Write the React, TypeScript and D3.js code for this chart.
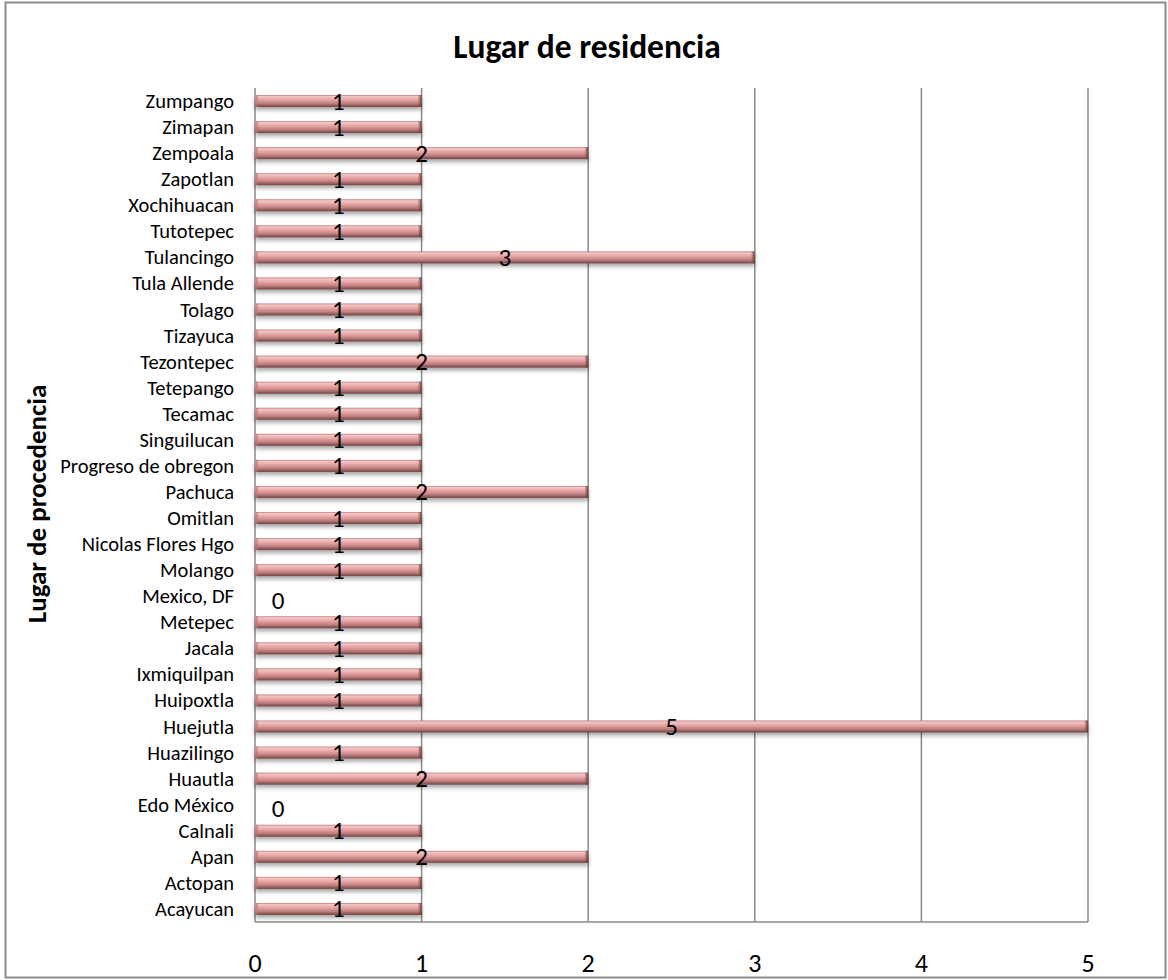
import React from "react";
import * as d3 from "d3";

const categories = [
  "Acayucan", "Actopan", "Apan", "Calnali", "Edo México", "Huautla", "Huazilingo",
  "Huejutla", "Huipoxtla", "Ixmiquilpan", "Jacala", "Metepec", "Mexico, DF", "Molango",
  "Nicolas Flores Hgo", "Omitlan", "Pachuca", "Progreso de obregon", "Singuilucan",
  "Tecamac", "Tetepango", "Tezontepec", "Tizayuca", "Tolago", "Tula Allende",
  "Tulancingo", "Tutotepec", "Xochihuacan", "Zapotlan", "Zempoala", "Zimapan", "Zumpango",
];
const values = [
  1, 1, 2, 1, 0, 2, 1,
  5, 1, 1, 1, 1, 0, 1,
  1, 1, 2, 1, 1,
  1, 1, 2, 1, 1, 1,
  3, 1, 1, 1, 2, 1, 1,
];
const xTicks = [0, 1, 2, 3, 4, 5];
const title = "Lugar de residencia";
const yTitle = "Lugar de procedencia";

const W = 1168;
const H = 980;
const plot = { left: 255, right: 1088, top: 88, bottom: 922 };
const FONT = "Carlito, Lato, 'Open Sans', sans-serif";

export default function App() {
  const x = d3.scaleLinear().domain([0, 5]).range([plot.left, plot.right]);
  const y = d3
    .scaleBand<string>()
    .domain([...categories].reverse())
    .range([plot.top, plot.bottom])
    .paddingInner(0)
    .paddingOuter(0);
  const barH = 12;
  const rows = categories.map((c, i) => ({ c, v: values[i] }));

  return (
    <svg
      width={W}
      height={H}
      style={{ position: "absolute", left: 0, top: 0, background: "#fff" }}
      fontFamily={FONT}
    >
      <defs>
        <linearGradient id="barFill" x1="0" y1="0" x2="0" y2="1">
          <stop offset="0%" stopColor="#b87a7a" />
          <stop offset="12%" stopColor="#f4c6c6" />
          <stop offset="40%" stopColor="#e6a3a3" />
          <stop offset="70%" stopColor="#c07f7f" />
          <stop offset="100%" stopColor="#6f4242" />
        </linearGradient>
        <linearGradient id="capFill" x1="0" y1="0" x2="1" y2="0">
          <stop offset="0%" stopColor="#8a5353" stopOpacity={0} />
          <stop offset="100%" stopColor="#5e3434" />
        </linearGradient>
        <filter id="shadow" x="-5%" y="-50%" width="110%" height="250%">
          <feGaussianBlur in="SourceAlpha" stdDeviation="2.2" />
          <feOffset dx="0" dy="3" result="b" />
          <feComponentTransfer>
            <feFuncA type="linear" slope="0.35" />
          </feComponentTransfer>
          <feMerge>
            <feMergeNode />
            <feMergeNode in="SourceGraphic" />
          </feMerge>
        </filter>
      </defs>

      <rect x={5.5} y={2.5} width={1160} height={975} fill="#fff" stroke="#8c8c8c" strokeWidth={2} />

      {/* vertical gridlines */}
      {xTicks.map((t) => (
        <line key={t} x1={x(t)} x2={x(t)} y1={plot.top} y2={plot.bottom} stroke="#8a8a8a" strokeWidth={1.5} />
      ))}
      <line x1={plot.left} x2={plot.right} y1={plot.bottom} y2={plot.bottom} stroke="#8a8a8a" strokeWidth={1.5} />

      {/* bars */}
      {rows.map(({ c, v }) => {
        if (v <= 0) return null;
        const cy = (y(c) as number) + y.bandwidth() / 2;
        const x0 = x(0);
        const w = x(v) - x0;
        return (
          <g key={c} filter="url(#shadow)">
            <rect x={x0} y={cy - barH / 2} width={w} height={barH} fill="url(#barFill)" />
            <rect x={x0 + w - 4} y={cy - barH / 2} width={4} height={barH} fill="url(#capFill)" />
            <rect x={x0} y={cy - barH / 2} width={3} height={barH} fill="#b57777" opacity={0.6} />
          </g>
        );
      })}

      {/* value labels */}
      {rows.map(({ c, v }) => {
        const cy = (y(c) as number) + y.bandwidth() / 2;
        const lx = v > 0 ? x(v / 2) : x(0) + 23;
        return (
          <text key={c} x={lx} y={cy + (v > 0 ? 0 : 4)} textAnchor="middle" dominantBaseline="central" fontSize={25} fill="#000">
            {v}
          </text>
        );
      })}

      {/* category labels */}
      {categories.map((c) => (
        <text
          key={c}
          x={234}
          y={(y(c) as number) + y.bandwidth() / 2}
          textAnchor="end"
          dominantBaseline="central"
          fontSize={20.5}
          fill="#000"
        >
          {c}
        </text>
      ))}

      {/* x tick labels */}
      {xTicks.map((t) => (
        <text key={t} x={x(t)} y={963} textAnchor="middle" dominantBaseline="central" fontSize={26} fill="#000">
          {t}
        </text>
      ))}

      <text x={587} y={46} textAnchor="middle" dominantBaseline="central" fontSize={33.5} fontWeight="bold" fill="#000">
        {title}
      </text>
      <text
        transform={`translate(36,504) rotate(-90)`}
        textAnchor="middle"
        dominantBaseline="central"
        fontSize={27}
        fontWeight="bold"
        fill="#000"
      >
        {yTitle}
      </text>
    </svg>
  );
}
